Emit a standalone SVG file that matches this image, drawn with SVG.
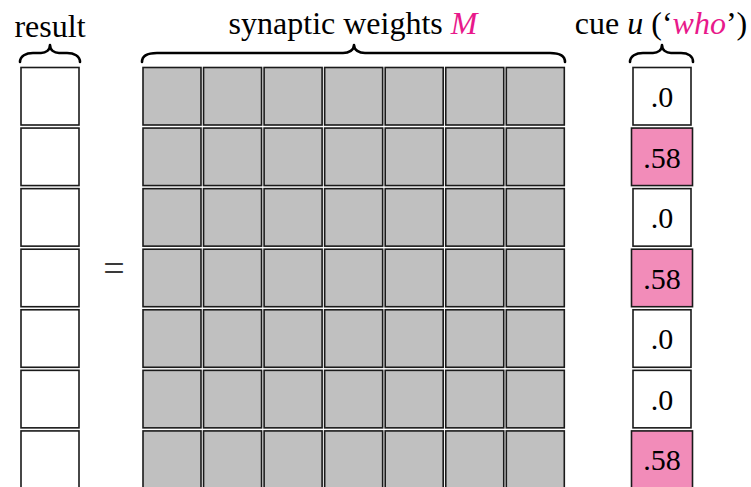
<svg xmlns="http://www.w3.org/2000/svg" width="751" height="487" viewBox="0 0 751 487">
<style>
  text { font-family: 'Liberation Serif', 'Times New Roman', Tinos, 'DejaVu Serif', serif; }
  .lbl { font-size: 32px; fill: #000; text-anchor: middle; }
  .num { font-size: 30px; fill: #000; text-anchor: middle; }
  .mag { fill: #e8198b; font-style: italic; }
  .it { font-style: italic; }
  .cell { stroke: #1a1a1a; stroke-width: 1.6; }
  .res { fill: #ffffff; }
  .w { fill: #c0c0c0; }
  .pink { fill: #f28cb9; }
  .brace { fill: none; stroke: #000; stroke-width: 2.6; stroke-linecap: round; stroke-linejoin: round; }
</style>
<rect width="751" height="487" fill="#ffffff"/>

<g id="labels" font-family="Liberation Serif, Times New Roman, serif">
  <text class="lbl" x="50" y="37">result</text>
  <text class="lbl" x="353" y="34">synaptic weights <tspan class="mag">M</tspan></text>
  <text class="lbl" x="661" y="34">cue <tspan class="it">u</tspan> (‘<tspan class="mag">who</tspan>’)</text>
  <text class="lbl" x="114" y="281" style="font-size:38px;fill:#3a3a3a">=</text>
</g>

<g id="braces">
  <path class="brace" d="M20,62 C20,56 26,53 33,53 L41,53 C46,53 50,50 50,45 C50,50 54,53 59,53 L67,53 C74,53 80,56 80,62"/>
  <path class="brace" d="M142,62 C142,56 148,53 157,53 L343,53 C349,53 354,50 354,45 C354,50 359,53 365,53 L550,53 C559,53 565,56 565,62"/>
  <path class="brace" d="M630,62 C630,56 636,53 643,53 L653,53 C658,53 662,50 662,45 C662,50 666,53 671,53 L681,53 C688,53 693,56 693,62"/>
</g>

<g id="result">
  <rect class="cell res" x="21" y="67.5" width="58" height="57.5"/>
  <rect class="cell res" x="21" y="128.07" width="58" height="57.5"/>
  <rect class="cell res" x="21" y="188.64" width="58" height="57.5"/>
  <rect class="cell res" x="21" y="249.21" width="58" height="57.5"/>
  <rect class="cell res" x="21" y="309.78" width="58" height="57.5"/>
  <rect class="cell res" x="21" y="370.35" width="58" height="57.5"/>
  <rect class="cell res" x="21" y="430.92" width="58" height="57.5"/>
</g>

<g id="weights">
  <g id="row1">
    <rect class="cell w" x="143" y="67.5" width="58" height="57.5"/>
    <rect class="cell w" x="203.55" y="67.5" width="58" height="57.5"/>
    <rect class="cell w" x="264.1" y="67.5" width="58" height="57.5"/>
    <rect class="cell w" x="324.65" y="67.5" width="58" height="57.5"/>
    <rect class="cell w" x="385.2" y="67.5" width="58" height="57.5"/>
    <rect class="cell w" x="445.75" y="67.5" width="58" height="57.5"/>
    <rect class="cell w" x="506.3" y="67.5" width="58" height="57.5"/>
  </g>
  <g id="row2">
    <rect class="cell w" x="143" y="128.07" width="58" height="57.5"/>
    <rect class="cell w" x="203.55" y="128.07" width="58" height="57.5"/>
    <rect class="cell w" x="264.1" y="128.07" width="58" height="57.5"/>
    <rect class="cell w" x="324.65" y="128.07" width="58" height="57.5"/>
    <rect class="cell w" x="385.2" y="128.07" width="58" height="57.5"/>
    <rect class="cell w" x="445.75" y="128.07" width="58" height="57.5"/>
    <rect class="cell w" x="506.3" y="128.07" width="58" height="57.5"/>
  </g>
  <g id="row3">
    <rect class="cell w" x="143" y="188.64" width="58" height="57.5"/>
    <rect class="cell w" x="203.55" y="188.64" width="58" height="57.5"/>
    <rect class="cell w" x="264.1" y="188.64" width="58" height="57.5"/>
    <rect class="cell w" x="324.65" y="188.64" width="58" height="57.5"/>
    <rect class="cell w" x="385.2" y="188.64" width="58" height="57.5"/>
    <rect class="cell w" x="445.75" y="188.64" width="58" height="57.5"/>
    <rect class="cell w" x="506.3" y="188.64" width="58" height="57.5"/>
  </g>
  <g id="row4">
    <rect class="cell w" x="143" y="249.21" width="58" height="57.5"/>
    <rect class="cell w" x="203.55" y="249.21" width="58" height="57.5"/>
    <rect class="cell w" x="264.1" y="249.21" width="58" height="57.5"/>
    <rect class="cell w" x="324.65" y="249.21" width="58" height="57.5"/>
    <rect class="cell w" x="385.2" y="249.21" width="58" height="57.5"/>
    <rect class="cell w" x="445.75" y="249.21" width="58" height="57.5"/>
    <rect class="cell w" x="506.3" y="249.21" width="58" height="57.5"/>
  </g>
  <g id="row5">
    <rect class="cell w" x="143" y="309.78" width="58" height="57.5"/>
    <rect class="cell w" x="203.55" y="309.78" width="58" height="57.5"/>
    <rect class="cell w" x="264.1" y="309.78" width="58" height="57.5"/>
    <rect class="cell w" x="324.65" y="309.78" width="58" height="57.5"/>
    <rect class="cell w" x="385.2" y="309.78" width="58" height="57.5"/>
    <rect class="cell w" x="445.75" y="309.78" width="58" height="57.5"/>
    <rect class="cell w" x="506.3" y="309.78" width="58" height="57.5"/>
  </g>
  <g id="row6">
    <rect class="cell w" x="143" y="370.35" width="58" height="57.5"/>
    <rect class="cell w" x="203.55" y="370.35" width="58" height="57.5"/>
    <rect class="cell w" x="264.1" y="370.35" width="58" height="57.5"/>
    <rect class="cell w" x="324.65" y="370.35" width="58" height="57.5"/>
    <rect class="cell w" x="385.2" y="370.35" width="58" height="57.5"/>
    <rect class="cell w" x="445.75" y="370.35" width="58" height="57.5"/>
    <rect class="cell w" x="506.3" y="370.35" width="58" height="57.5"/>
  </g>
  <g id="row7">
    <rect class="cell w" x="143" y="430.92" width="58" height="57.5"/>
    <rect class="cell w" x="203.55" y="430.92" width="58" height="57.5"/>
    <rect class="cell w" x="264.1" y="430.92" width="58" height="57.5"/>
    <rect class="cell w" x="324.65" y="430.92" width="58" height="57.5"/>
    <rect class="cell w" x="385.2" y="430.92" width="58" height="57.5"/>
    <rect class="cell w" x="445.75" y="430.92" width="58" height="57.5"/>
    <rect class="cell w" x="506.3" y="430.92" width="58" height="57.5"/>
  </g>
</g>

<g id="cue">
  <g id="cue1"><rect class="cell res" x="633" y="67.5" width="58" height="57.5"/><text class="num" x="662" y="107">.0</text></g>
  <g id="cue2"><rect class="cell pink" x="631.5" y="128.07" width="61" height="57.5"/><text class="num" x="662" y="167.6">.58</text></g>
  <g id="cue3"><rect class="cell res" x="633" y="188.64" width="58" height="57.5"/><text class="num" x="662" y="228.2">.0</text></g>
  <g id="cue4"><rect class="cell pink" x="631.5" y="249.21" width="61" height="57.5"/><text class="num" x="662" y="288.7">.58</text></g>
  <g id="cue5"><rect class="cell res" x="633" y="309.78" width="58" height="57.5"/><text class="num" x="662" y="349.3">.0</text></g>
  <g id="cue6"><rect class="cell res" x="633" y="370.35" width="58" height="57.5"/><text class="num" x="662" y="409.9">.0</text></g>
  <g id="cue7"><rect class="cell pink" x="631.5" y="430.92" width="61" height="57.5"/><text class="num" x="662" y="470.4">.58</text></g>
</g>
</svg>
